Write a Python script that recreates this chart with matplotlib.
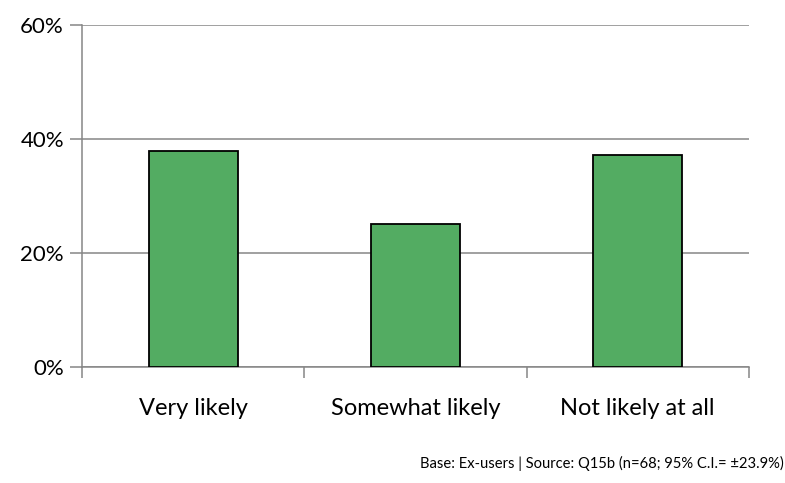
import matplotlib.pyplot as plt
from matplotlib.ticker import FuncFormatter

categories = ["Very likely", "Somewhat likely", "Not likely at all"]
shares = [37.8, 25.0, 37.2]
y_ticks = [0, 20, 40, 60]
footnote = "Base: Ex-users | Source: Q15b (n=68; 95% C.I.= \u00b123.9%)"

plt.rcParams["font.family"] = ["Lato", "DejaVu Sans"]
grid_grey = "#868686"

fig = plt.figure(figsize=(7.85, 4.83), dpi=100)
ax = fig.add_axes([0.1045, 0.2412, 0.8495, 0.7077])

x = list(range(len(categories)))
ax.bar(x, shares, width=0.4, color="#53AC62", edgecolor="black", linewidth=1.3, zorder=3)

ax.set_xlim(-0.5, len(categories) - 0.5)
ax.set_ylim(0, 60)
ax.set_yticks(y_ticks)
ax.yaxis.set_major_formatter(FuncFormatter(lambda v, _: f"{v:.0f}%"))
ax.grid(axis="y", color=grid_grey, linewidth=1.1, zorder=0)

# category labels sit between the boundary ticks
ax.set_xticks(x)
ax.set_xticklabels(categories, fontsize=17)
ax.tick_params(axis="x", length=0, pad=23)
ax.set_xticks([i - 0.5 for i in range(len(categories) + 1)], minor=True)
ax.tick_params(axis="x", which="minor", length=8, width=1.1, color=grid_grey)
ax.tick_params(axis="y", length=9, width=1.1, color=grid_grey, labelsize=16, pad=4)

for side in ["top", "right"]:
    ax.spines[side].set_visible(False)
for side in ["left", "bottom"]:
    ax.spines[side].set_color(grid_grey)
    ax.spines[side].set_linewidth(1.1)

fig.text(0.999, 0.04, footnote, ha="right", va="center", fontsize=10.6)

fig.savefig("out.png", dpi=100)
